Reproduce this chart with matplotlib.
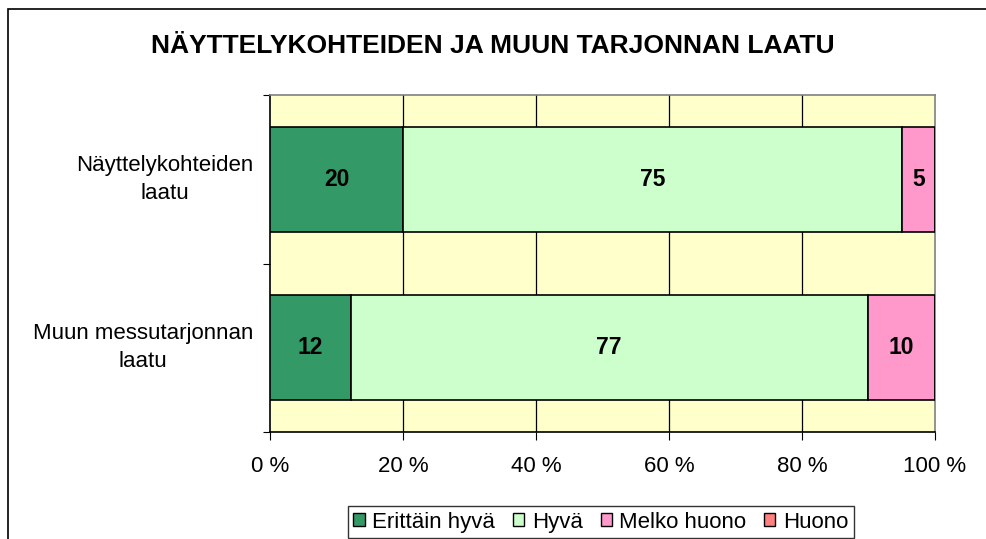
import numpy as np
import matplotlib.pyplot as plt
from matplotlib.patches import Rectangle

plt.rcParams['font.family'] = ['Liberation Sans', 'DejaVu Sans']

title = "NÄYTTELYKOHTEIDEN JA MUUN TARJONNAN LAATU"
categories = ["Näyttelykohteiden\nlaatu", "Muun messutarjonnan\nlaatu"]
series = ["Erittäin hyvä", "Hyvä", "Melko huono", "Huono"]
values = {
    "Erittäin hyvä": [20, 12],
    "Hyvä": [75, 77],
    "Melko huono": [5, 10],
    "Huono": [0, 0],
}
colors = ["#339966", "#CCFFCC", "#FF99CC", "#FF8080"]
xticks = [0, 20, 40, 60, 80, 100]

fig = plt.figure(figsize=(9.86, 5.39), dpi=100)
ax = fig.add_axes([270/986, 1-432/539, 665/986, 337/539])
ax.set_facecolor("#FFFFCC")

totals = np.sum([values[s] for s in series], axis=0)
y = np.arange(len(categories))
left = np.zeros(len(categories))
for s, c in zip(series, colors):
    v = np.array(values[s], dtype=float)
    pct = v / totals * 100
    ax.barh(y, pct, left=left, height=0.625, color=c, edgecolor="black",
            linewidth=1.2, label=s, zorder=3)
    for yi, raw, l, p in zip(y, v, left, pct):
        if raw > 0:
            ax.text(l + p/2, yi, f"{int(raw)}", ha="center", va="center",
                    fontsize=16.5, fontweight="bold", zorder=4)
    left += pct

ax.set_xlim(0, 100)
ax.set_ylim(len(categories) - 0.5, -0.5)
ax.set_xticks(xticks)
ax.set_xticklabels([f"{t} %" for t in xticks], fontsize=16)
ax.tick_params(axis="x", direction="out", length=6, pad=11, color="black")
ax.set_yticks(np.arange(len(categories) + 1) - 0.5)
ax.set_yticklabels([])
ax.tick_params(axis="y", direction="out", length=5, color="black")
for t in xticks[1:-1]:
    ax.axvline(t, color="black", linewidth=0.9, zorder=1)

ax.spines["top"].set_color("#808080")
ax.spines["right"].set_color("#808080")
ax.spines["left"].set_color("black")
ax.spines["bottom"].set_color("black")
for sp in ax.spines.values():
    sp.set_linewidth(1.2)

for yi, cat in zip(y, categories):
    ax.text(-17/665, yi, cat, transform=ax.get_yaxis_transform(), ha="right",
            va="center", multialignment="center", fontsize=16, linespacing=1.45)

fig.text(0.5, 1-46/539, title, ha="center", va="center", fontsize=19,
         fontweight="bold")

fig.patches.append(Rectangle((8/986, -0.1), 1.1, 1-9/539+0.1,
                             transform=fig.transFigure, fill=False,
                             edgecolor="black", linewidth=1.2))

leg = fig.legend(loc="upper center", bbox_to_anchor=(601/986, 1-506/539),
                 ncol=4, fontsize=16, frameon=True, fancybox=False,
                 handlelength=0.5, handleheight=0.5, handletextpad=0.35,
                 columnspacing=0.8, borderpad=0.25, borderaxespad=0)
leg.get_frame().set_edgecolor("black")
leg.get_frame().set_linewidth(1.0)
for h in leg.legend_handles:
    h.set_linewidth(1.0)

fig.savefig("out.png", dpi=100)
